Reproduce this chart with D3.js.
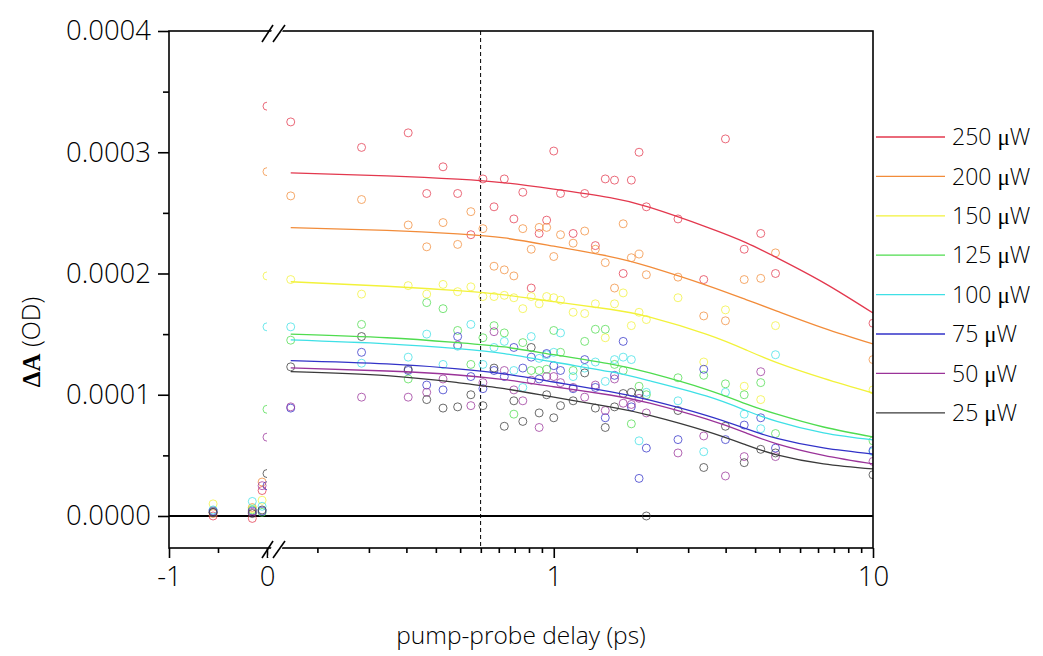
<!DOCTYPE html>
<html>
<head>
<meta charset="utf-8">
<script src="https://cdn.jsdelivr.net/npm/d3@7"></script>
<style>
  body { margin: 0; background: #fff; }
  svg text { font-family: "Open Sans", sans-serif; font-weight: 300; fill: #000; }
</style>
</head>
<body>
<div id="chart"></div>
<script>
// measured delays (ps), shared by every power
var delays = [-0.55, -0.15, -0.05, 0, 0.15, 0.25, 0.35, 0.40, 0.45, 0.50, 0.55, 0.60, 0.65, 0.70, 0.75, 0.80, 0.85, 0.90, 0.95,
              1.0, 1.05, 1.15, 1.25, 1.35, 1.45, 1.55, 1.65, 1.75, 1.85, 1.95, 2.45, 2.95, 3.45, 3.95, 4.45, 4.95, 10];

// ΔA in units of 1e-4 OD
var data250 = [0.0, -0.02, 0.21, 3.38, 3.25, 3.04, 3.16, 2.66, 2.88, 2.66, 2.32, 2.78, 2.55, 2.78, 2.45, 2.67, 1.88, 2.33, 2.44,
               3.01, 2.66, 2.33, 2.66, 2.23, 2.78, 2.77, 2.0, 2.77, 3.0, 2.55, 2.45, 1.95, 3.11, 2.2, 2.33, 2.0, 1.59];
var data200 = [0.02, 0.07, 0.28, 2.84, 2.64, 2.61, 2.40, 2.22, 2.42, 2.24, 2.51, 2.37, 2.06, 2.03, 1.98, 2.37, 2.20, 2.38, 2.38,
               2.14, 2.32, 2.25, 2.35, 2.20, 2.09, 1.88, 2.41, 2.13, 2.16, 1.99, 1.97, 1.65, 1.61, 1.95, 1.96, 2.17, 1.29];
var data150 = [0.10, 0.06, 0.13, 1.98, 1.95, 1.83, 1.90, 1.83, 1.91, 1.85, 1.89, 1.81, 1.81, 1.82, 1.80, 1.71, 1.81, 1.75, 1.81,
               1.80, 1.78, 1.68, 1.67, 1.75, 1.47, 1.75, 1.84, 1.57, 1.68, 1.62, 1.80, 1.27, 1.70, 1.07, 0.96, 1.57, 1.04];
var data125 = [0.03, 0.05, 0.03, 0.88, 1.45, 1.58, 1.13, 1.76, 1.71, 1.53, 1.25, 1.47, 1.57, 1.51, 0.84, 1.43, 1.20, 1.20, 1.21,
               1.53, 1.35, 1.20, 1.44, 1.54, 1.54, 1.25, 1.20, 0.76, 1.07, 1.0, 1.14, 1.16, 1.09, 1.0, 1.10, 0.68, 0.62];
var data100 = [0.05, 0.12, 0.08, 1.56, 1.56, 1.26, 1.31, 1.50, 1.25, 1.40, 1.58, 1.25, 1.39, 1.44, 1.20, 1.06, 1.48, 1.30, 1.33,
               1.35, 1.51, 1.15, 1.22, 1.27, 1.11, 1.29, 1.31, 1.29, 0.62, 1.02, 0.95, 0.53, 1.02, 0.84, 0.72, 1.33, 0.53];
var data75  = [0.04, 0.04, 0.04, 0.25, 0.89, 1.35, 1.20, 1.08, 1.04, 1.48, 1.15, 1.05, 1.20, 1.15, 1.39, 1.22, 1.31, 1.13, 1.34,
               1.24, 1.20, 1.05, 1.29, 1.06, 0.81, 1.16, 1.44, 0.90, 0.31, 0.56, 0.63, 1.21, 0.63, 0.75, 0.81, 0.56, 0.54];
var data50  = [0.03, 0.03, 0.25, 0.65, 0.90, 0.98, 0.98, 1.02, 1.13, 1.41, 0.91, 1.10, 1.52, 1.20, 1.04, 0.95, 1.12, 0.73, 1.15,
               1.15, 1.10, 1.06, 0.98, 1.08, 0.87, 1.13, 0.93, 0.92, 0.97, 0.85, 0.52, 0.66, 0.33, 0.49, 1.19, 0.49, 0.45];
var data25  = [0.03, 0.02, 0.05, 0.35, 1.23, 1.48, 1.21, 0.96, 0.89, 0.90, 1.00, 0.91, 1.22, 0.74, 0.95, 0.78, 1.39, 0.85, 1.00,
               0.81, 0.91, 0.95, 1.18, 0.89, 0.73, 0.90, 1.01, 1.02, 1.01, 0.0, 0.87, 0.40, 0.74, 0.44, 0.55, 0.52, 0.34];

// fitted curves, read at these delays
var fitDelays = [0.15, 0.3, 0.5, 0.7, 1, 1.5, 2, 3, 4, 5, 7, 10];
var fit250 = [2.83, 2.805, 2.778, 2.748, 2.695, 2.625, 2.545, 2.385, 2.255, 2.13, 1.925, 1.674];
var fit200 = [2.378, 2.355, 2.326, 2.293, 2.225, 2.14, 2.055, 1.905, 1.785, 1.69, 1.55, 1.419];
var fit150 = [1.932, 1.895, 1.858, 1.823, 1.768, 1.705, 1.64, 1.50, 1.37, 1.265, 1.135, 1.014];
var fit125 = [1.50, 1.47, 1.43, 1.394, 1.33, 1.254, 1.18, 1.045, 0.925, 0.84, 0.734, 0.652];
var fit100 = [1.452, 1.42, 1.38, 1.34, 1.27, 1.19, 1.115, 0.99, 0.87, 0.78, 0.685, 0.627];
var fit75  = [1.281, 1.254, 1.214, 1.172, 1.105, 1.025, 0.955, 0.83, 0.72, 0.64, 0.561, 0.511];
var fit50  = [1.221, 1.196, 1.163, 1.124, 1.066, 0.998, 0.930, 0.80, 0.685, 0.595, 0.50, 0.429];
var fit25  = [1.19, 1.158, 1.10, 1.05, 0.98, 0.90, 0.83, 0.70, 0.586, 0.505, 0.43, 0.388];

var powers = ["250", "200", "150", "125", "100", "75", "50", "25"];
var colors = ["#e3384e", "#f28c3a", "#f2f23a", "#4fdc4f", "#3fe0e6", "#3232c8", "#9a3399", "#3a3a3a"];
var yTicks = [0, 1, 2, 3, 4];
var yMinor = [0.5, 1.5, 2.5, 3.5];
var dashDelay = 0.59;

var allPts = [data250, data200, data150, data125, data100, data75, data50, data25];
var allFits = [fit250, fit200, fit150, fit125, fit100, fit75, fit50, fit25];
var series = powers.map(function(p, i) {
  return { name: p, color: colors[i], pts: allPts[i], fit: allFits[i] };
});

var width = 1043, height = 656;
var pLeft = 169, pRight = 873, pTop = 31, pBottom = 548;
var cutL = 267, cutR = 273;

var svg = d3.select("#chart").append("svg")
    .attr("width", width)
    .attr("height", height);

var xL = d3.scaleLinear().domain([-1, 0]).range([pLeft, cutL]);
var xR = d3.scaleLog().domain([0.132, 10]).range([cutR, pRight]);
var y = d3.scaleLinear().domain([-0.264, 4]).range([pBottom, pTop]);

var defs = svg.append("defs");
defs.append("clipPath").attr("id", "clipL").append("rect")
    .attr("x", pLeft).attr("y", pTop).attr("width", cutL - pLeft).attr("height", pBottom - pTop);
defs.append("clipPath").attr("id", "clipR").append("rect")
    .attr("x", cutR).attr("y", pTop).attr("width", pRight - cutR).attr("height", pBottom - pTop);

// zero line
svg.append("line")
    .attr("x1", pLeft).attr("x2", pRight)
    .attr("y1", y(0)).attr("y2", y(0))
    .attr("stroke", "#000").attr("stroke-width", 2);

// dashed marker
svg.append("line")
    .attr("x1", xR(dashDelay)).attr("x2", xR(dashDelay))
    .attr("y1", pTop).attr("y2", pBottom)
    .attr("stroke", "#000").attr("stroke-width", 1)
    .attr("stroke-dasharray", "4,3");

var gL = svg.append("g").attr("clip-path", "url(#clipL)");
var gR = svg.append("g").attr("clip-path", "url(#clipR)");

var line = d3.line()
    .x(function(d) { return xR(d[0]); })
    .y(function(d) { return y(d[1]); })
    .curve(d3.curveNatural);

series.forEach(function(s) {
  var pts = delays.map(function(t, i) { return [t, s.pts[i]]; });
  gL.selectAll(null).data(pts.filter(function(d) { return d[0] <= 0; }))
    .enter().append("circle")
    .attr("cx", function(d) { return xL(d[0]); })
    .attr("cy", function(d) { return y(d[1]); })
    .attr("r", 4)
    .attr("fill", "none")
    .attr("stroke", s.color)
    .attr("stroke-opacity", 0.75);
  gR.selectAll(null).data(pts.filter(function(d) { return d[0] > 0; }))
    .enter().append("circle")
    .attr("cx", function(d) { return xR(d[0]); })
    .attr("cy", function(d) { return y(d[1]); })
    .attr("r", 4)
    .attr("fill", "none")
    .attr("stroke", s.color)
    .attr("stroke-opacity", 0.75);
});

series.forEach(function(s) {
  gR.append("path")
    .datum(fitDelays.map(function(t, i) { return [t, s.fit[i]]; }))
    .attr("d", line)
    .attr("fill", "none")
    .attr("stroke", s.color)
    .attr("stroke-width", 1.3);
});

// frame
svg.append("rect")
    .attr("x", pLeft).attr("y", pTop)
    .attr("width", pRight - pLeft).attr("height", pBottom - pTop)
    .attr("fill", "none").attr("stroke", "#000").attr("stroke-width", 1.6);

var intFmt = function(d) { return String(d); };

// y axis
svg.append("g").attr("transform", "translate(" + pLeft + ",0)")
    .call(d3.axisLeft(y).tickValues(yTicks).tickSize(11).tickPadding(7)
      .tickFormat(function(d) { return (d / 1e4).toFixed(4); }));
svg.append("g").attr("transform", "translate(" + pLeft + ",0)")
    .call(d3.axisLeft(y).tickValues(yMinor).tickSize(6).tickFormat(""));

// x axis, left segment
svg.append("g").attr("transform", "translate(0," + pBottom + ")")
    .call(d3.axisBottom(xL).tickValues([-1, 0]).tickSize(10).tickPadding(8).tickFormat(intFmt));
svg.append("g").attr("transform", "translate(0," + pBottom + ")")
    .call(d3.axisBottom(xL).tickValues([-0.5]).tickSize(5).tickFormat(""));

// x axis, log segment (10 minor ticks per decade)
var minor = [];
[0.1, 1].forEach(function(dec) {
  for (var k = 1; k <= 10; k++) {
    var v = dec + k * dec * 9 / 11;
    if (v > 0.132) minor.push(v);
  }
});
svg.append("g").attr("transform", "translate(0," + pBottom + ")")
    .call(d3.axisBottom(xR).tickValues([1, 10]).tickSize(10).tickPadding(8).tickFormat(intFmt));
svg.append("g").attr("transform", "translate(0," + pBottom + ")")
    .call(d3.axisBottom(xR).tickValues(minor).tickSize(5).tickFormat(""));

svg.selectAll(".domain").remove();
svg.selectAll(".tick line").attr("stroke", "#000").attr("stroke-width", 1.6);
svg.selectAll(".tick text").style("font-size", "27.5px").attr("fill", "#000");

// break marks
[pTop + 2, pBottom + 1].forEach(function(yy) {
  var cx = 273;
  svg.append("polygon")
    .attr("points", [[cx - 5, yy + 8], [cx + 1, yy - 9], [cx + 12, yy - 9], [cx + 6, yy + 8]].join(" "))
    .attr("fill", "#fff");
  [[cx - 11, cx], [cx, cx + 12]].forEach(function(p) {
    svg.append("line")
      .attr("x1", p[0]).attr("y1", yy + 9)
      .attr("x2", p[1]).attr("y2", yy - 8)
      .attr("stroke", "#000").attr("stroke-width", 1.6);
  });
});

// titles
svg.append("text")
    .attr("x", 521).attr("y", 644)
    .attr("text-anchor", "middle")
    .style("font-size", "24.5px")
    .text("pump-probe delay (ps)");

var yt = svg.append("text")
    .attr("transform", "translate(40,342) rotate(-90)")
    .attr("text-anchor", "middle")
    .style("font-size", "25px");
yt.append("tspan").style("font-family", "'Liberation Serif', serif").style("font-weight", "bold").text("\u0394A");
yt.append("tspan").text(" (OD)");

// legend
var leg = svg.append("g");
series.forEach(function(s, i) {
  var yy = 137 + i * 39.4;
  leg.append("line")
    .attr("x1", 876).attr("x2", 945)
    .attr("y1", yy).attr("y2", yy)
    .attr("stroke", s.color).attr("stroke-width", 1.3);
  var t = leg.append("text")
    .attr("x", 952).attr("y", yy)
    .attr("dy", "0.36em")
    .style("font-size", "23px");
  t.append("tspan").text(s.name + " ");
  t.append("tspan").style("font-family", "'Liberation Serif', serif").text("\u03bc");
  t.append("tspan").text("W");
});
</script>
</body>
</html>
